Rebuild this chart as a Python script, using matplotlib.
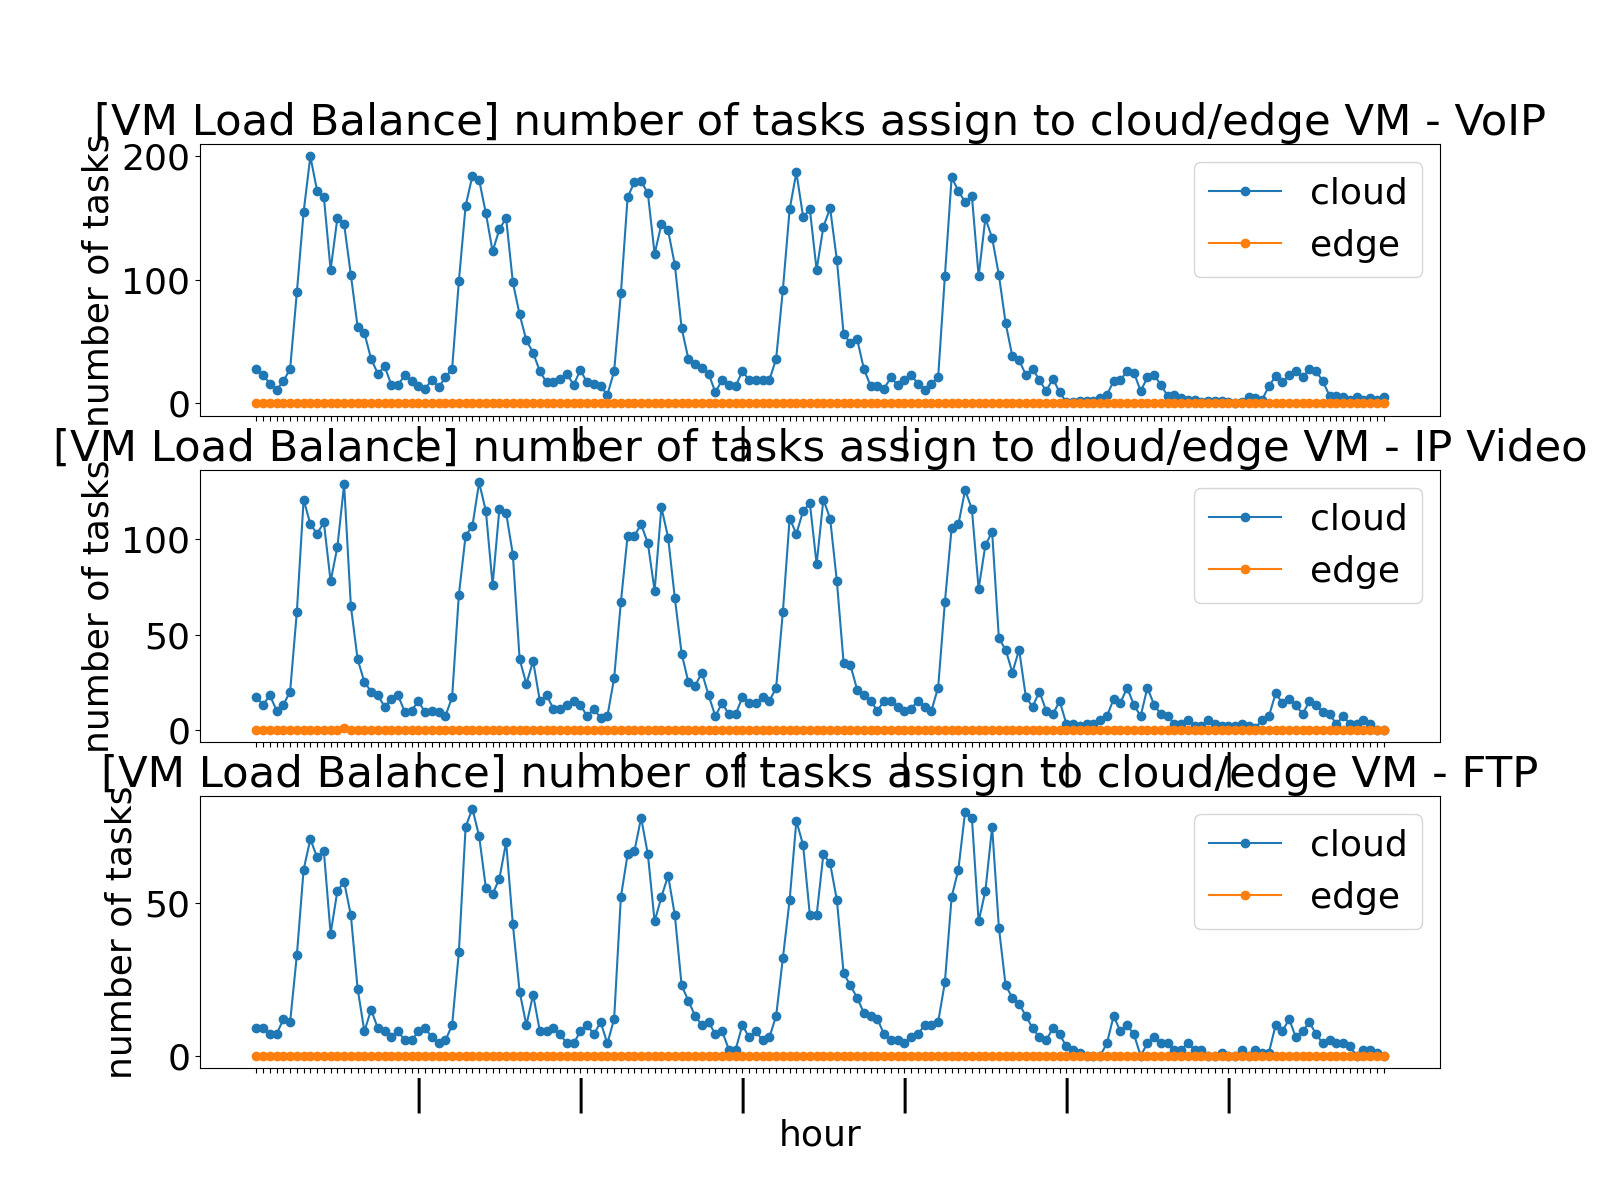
import numpy as np
import matplotlib
matplotlib.use("Agg")
import matplotlib.pyplot as plt

plt.rcParams['font.size'] = 26

# horas de la semana (7 dias x 24 horas)
hours = np.arange(168)

# VoIP
voip_cloud = [28, 23, 16, 11, 18, 28, 90, 155, 200, 172, 167, 108, 150, 145, 104, 62, 57, 36, 24, 30, 15, 15, 23, 18,
              14, 12, 19, 13, 21, 28, 99, 160, 184, 181, 154, 123, 141, 150, 98, 72, 51, 41, 26, 17, 17, 20, 24, 15,
              27, 17, 16, 14, 7, 26, 89, 167, 179, 180, 170, 121, 145, 140, 112, 61, 36, 32, 29, 24, 9, 19, 15, 14,
              26, 19, 19, 19, 19, 36, 92, 157, 187, 151, 157, 108, 143, 158, 116, 56, 49, 52, 28, 14, 14, 12, 21, 15,
              19, 23, 16, 11, 16, 21, 103, 183, 172, 163, 168, 103, 150, 134, 104, 65, 38, 35, 23, 28, 19, 10, 20, 9,
              1, 1, 2, 2, 2, 4, 7, 18, 19, 26, 25, 10, 21, 23, 15, 6, 7, 4, 3, 3, 1, 2, 2, 2,
              1, 0, 1, 5, 4, 3, 14, 22, 17, 23, 26, 21, 28, 26, 18, 6, 6, 5, 3, 5, 3, 4, 3, 5]
voip_edge = [0] * 168

# IP Video
video_cloud = [17, 13, 18, 10, 13, 20, 62, 121, 108, 103, 109, 78, 96, 129, 65, 37, 25, 20, 18, 12, 16, 18, 9, 10,
               15, 9, 10, 9, 7, 17, 71, 102, 107, 130, 115, 76, 116, 114, 92, 37, 24, 36, 15, 18, 11, 11, 13, 15,
               13, 7, 11, 6, 7, 27, 67, 102, 102, 108, 98, 73, 117, 101, 69, 40, 25, 23, 30, 18, 7, 14, 8, 8,
               17, 14, 14, 17, 15, 22, 62, 111, 103, 115, 119, 87, 121, 111, 78, 35, 34, 21, 18, 15, 10, 15, 15, 12,
               10, 11, 15, 12, 10, 22, 67, 106, 108, 126, 116, 74, 97, 104, 48, 42, 30, 42, 17, 12, 20, 10, 8, 15,
               3, 3, 2, 3, 3, 5, 7, 16, 14, 22, 13, 7, 22, 13, 8, 7, 3, 3, 5, 2, 2, 5, 3, 2,
               2, 2, 3, 2, 1, 5, 7, 19, 14, 16, 13, 8, 15, 13, 9, 8, 3, 7, 3, 3, 5, 3, 0, 0]
video_edge = [0] * 13 + [1] + [0] * 154

# FTP
ftp_cloud = [9, 9, 7, 7, 12, 11, 33, 61, 71, 65, 67, 40, 54, 57, 46, 22, 8, 15, 9, 8, 6, 8, 5, 5,
             8, 9, 6, 4, 5, 10, 34, 75, 81, 72, 55, 53, 58, 70, 43, 21, 10, 20, 8, 8, 9, 7, 4, 4,
             8, 10, 7, 11, 4, 12, 52, 66, 67, 78, 66, 44, 52, 59, 46, 23, 18, 13, 10, 11, 7, 8, 2, 2,
             10, 6, 8, 5, 6, 13, 32, 51, 77, 69, 46, 46, 66, 63, 51, 27, 23, 19, 14, 13, 12, 7, 5, 5,
             4, 6, 7, 10, 10, 11, 24, 52, 61, 80, 78, 44, 54, 75, 42, 23, 19, 17, 13, 9, 6, 5, 9, 7,
             3, 2, 1, 0, 0, 0, 4, 13, 8, 10, 7, 0, 4, 6, 4, 4, 2, 2, 4, 2, 2, 0, 0, 1,
             0, 0, 2, 0, 2, 1, 1, 10, 8, 12, 6, 8, 11, 7, 4, 5, 4, 4, 3, 0, 2, 2, 1, 0]
ftp_edge = [0] * 168

apps = ['VoIP', 'IP Video', 'FTP']
cloud_series = [voip_cloud, video_cloud, ftp_cloud]
edge_series = [voip_edge, video_edge, ftp_edge]

# etiqueta "|" al inicio de cada dia
tick_labels = ['|' if h % 24 == 0 and h > 0 else '' for h in hours]

fig, axes = plt.subplots(3, 1, figsize=(16, 12), dpi=100)

for ax, app, cloud, edge in zip(axes, apps, cloud_series, edge_series):
    ax.plot(hours, cloud, marker='o', label='cloud')
    ax.plot(hours, edge, marker='o', label='edge')
    ax.set_title('[VM Load Balance] number of tasks assign to cloud/edge VM - ' + app)
    ax.set_ylabel('number of tasks')
    ax.set_xticks(hours)
    ax.set_xticklabels(tick_labels)
    ax.legend(loc='upper right')

axes[-1].set_xlabel('hour')

plt.savefig('out.png')
